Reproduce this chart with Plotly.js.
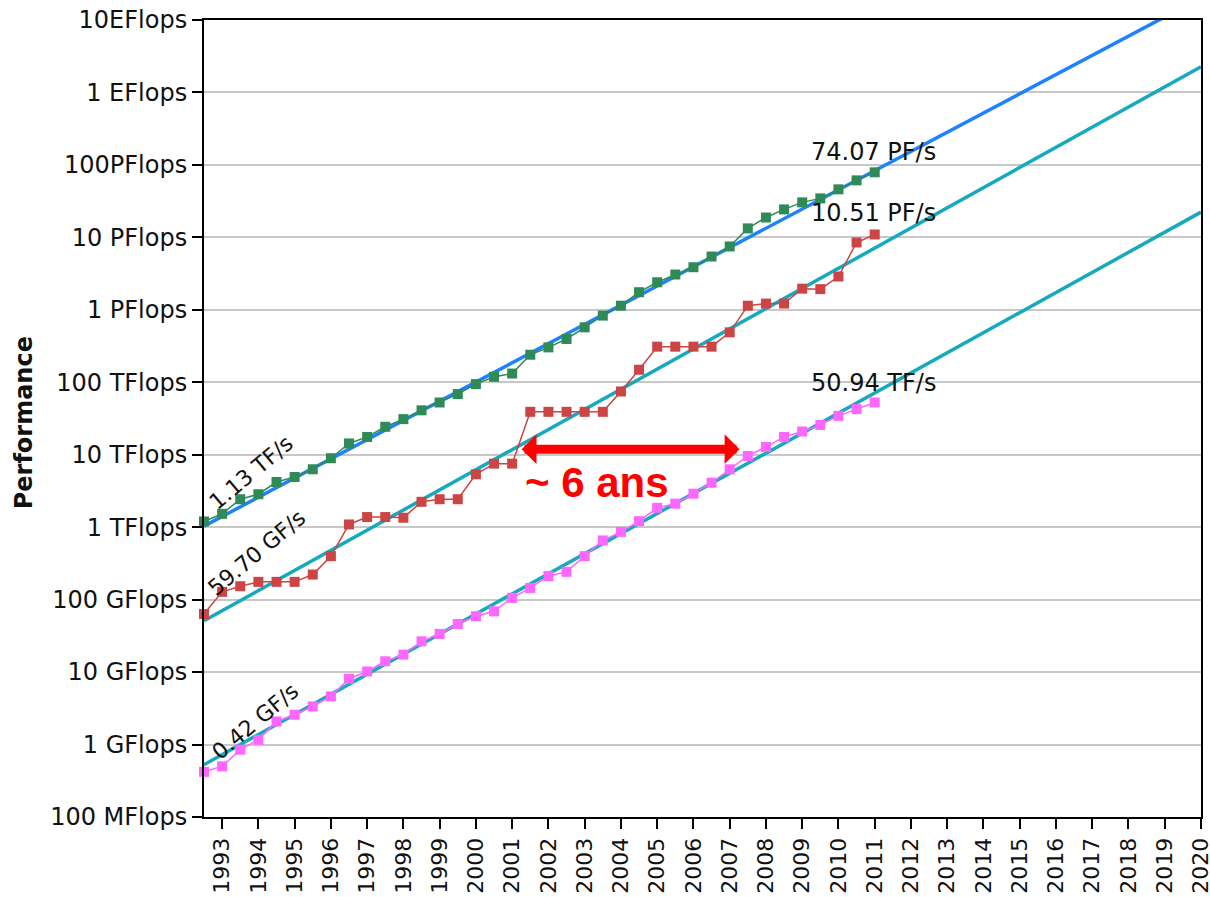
<!DOCTYPE html>
<html>
<head>
<meta charset="utf-8">
<script src="https://cdn.plot.ly/plotly-3.0.1.min.js"></script>
<style>
  html, body { margin: 0; padding: 0; background: #ffffff; }
  #chart { width: 1210px; height: 897px; }
</style>
</head>
<body>
<div id="chart"></div>
<script>
// TOP500 list dates (June / November of each year, as fractional years)
const listYears = [
  1992.5, 1993.0, 1993.5, 1994.0, 1994.5, 1995.0, 1995.5, 1996.0, 1996.5, 1997.0,
  1997.5, 1998.0, 1998.5, 1999.0, 1999.5, 2000.0, 2000.5, 2001.0, 2001.5, 2002.0,
  2002.5, 2003.0, 2003.5, 2004.0, 2004.5, 2005.0, 2005.5, 2006.0, 2006.5, 2007.0,
  2007.5, 2008.0, 2008.5, 2009.0, 2009.5, 2010.0, 2010.5, 2011.0
];

// Sum of the 500 systems (Flops)
const sumPerf = [
  1.2e12, 1.53e12, 2.43e12, 2.85e12, 4.2e12, 4.93e12, 6.3e12, 8.95e12, 1.43e13, 1.76e13,
  2.43e13, 3.1e13, 4.1e13, 5.26e13, 6.87e13, 9.44e13, 1.19e14, 1.32e14, 2.4e14, 3.03e14,
  3.96e14, 5.73e14, 8.32e14, 1.14e15, 1.75e15, 2.4e15, 3.07e15, 3.87e15, 5.44e15, 7.49e15,
  1.33e16, 1.88e16, 2.43e16, 3.04e16, 3.45e16, 4.6e16, 6.12e16, 7.9e16
];

// #1 system (Flops)
const firstPerf = [
  6.34e10, 1.28e11, 1.53e11, 1.76e11, 1.76e11, 1.76e11, 2.22e11, 3.98e11, 1.09e12, 1.38e12,
  1.38e12, 1.35e12, 2.24e12, 2.43e12, 2.43e12, 5.37e12, 7.53e12, 7.53e12, 3.91e13, 3.91e13,
  3.91e13, 3.91e13, 3.91e13, 7.46e13, 1.49e14, 3.1e14, 3.1e14, 3.1e14, 3.1e14, 4.89e14,
  1.14e15, 1.22e15, 1.22e15, 1.96e15, 1.93e15, 2.88e15, 8.5e15, 1.096e16
];

// #500 system (Flops)
const lastPerf = [
  4.2e8, 5.0e8, 8.5e8, 1.16e9, 2.08e9, 2.58e9, 3.36e9, 4.62e9, 8.1e9, 1.02e10,
  1.41e10, 1.74e10, 2.66e10, 3.36e10, 4.61e10, 5.9e10, 6.9e10, 1.06e11, 1.45e11, 2.11e11,
  2.42e11, 3.98e11, 6.56e11, 8.63e11, 1.21e12, 1.85e12, 2.11e12, 2.9e12, 4.11e12, 6.3e12,
  9.6e12, 1.28e13, 1.76e13, 2.09e13, 2.58e13, 3.44e13, 4.26e13, 5.26e13
];

// Trend lines (end points)
const trendYears = [1992.5, 2020];
const trendSum = [1.035e12, 2.03e19];
const trendFirst = [5.1e10, 2.26e18];
const trendLast = [5.28e8, 2.23e16];

// Axis ticks
const yTickVals = [1e8, 1e9, 1e10, 1e11, 1e12, 1e13, 1e14, 1e15, 1e16, 1e17, 1e18, 1e19];
const yTickText = ["100 MFlops", "1 GFlops", "10 GFlops", "100 GFlops", "1 TFlops", "10 TFlops",
  "100 TFlops", "1 PFlops", "10 PFlops", "100PFlops", "1 EFlops", "10EFlops"];
const xTickVals = [1993, 1994, 1995, 1996, 1997, 1998, 1999, 2000, 2001, 2002, 2003, 2004, 2005, 2006,
  2007, 2008, 2009, 2010, 2011, 2012, 2013, 2014, 2015, 2016, 2017, 2018, 2019, 2020];
const xTickText = xTickVals.map(String);

// Text labels
const startLabels = ["1.13 TF/s", "59.70 GF/s", "0.42 GF/s"];
const endLabels = ["74.07 PF/s", "10.51 PF/s", "50.94 TF/s"];
const gapLabel = "~ 6 ans";
const yTitle = "Performance";

const FONT = "DejaVu Sans, Arial, sans-serif";

const traces = [
  { x: trendYears, y: trendSum, mode: "lines", line: { color: "#1e82ff", width: 3.5 }, hoverinfo: "skip" },
  { x: trendYears, y: trendFirst, mode: "lines", line: { color: "#17a9bd", width: 3.5 }, hoverinfo: "skip" },
  { x: trendYears, y: trendLast, mode: "lines", line: { color: "#17a9bd", width: 3.5 }, hoverinfo: "skip" },
  { x: listYears, y: sumPerf, mode: "lines+markers", cliponaxis: false,
    line: { color: "#2e8b57", width: 1.5 }, marker: { symbol: "square", size: 10, color: "#2e8b57" } },
  { x: listYears, y: firstPerf, mode: "lines+markers", cliponaxis: false,
    line: { color: "#cc4444", width: 1.5 }, marker: { symbol: "square", size: 10, color: "#cc4444" } },
  { x: listYears, y: lastPerf, mode: "lines+markers", cliponaxis: false,
    line: { color: "#ff66ff", width: 1.5 }, marker: { symbol: "square", size: 10, color: "#ff66ff" } }
];

const n = listYears.length - 1;
const annotations = [
  // rotated start labels
  { x: 1993.81, y: 12.748, text: startLabels[0], textangle: -40 },
  { x: 1993.96, y: 11.656, text: startLabels[1], textangle: -40 },
  { x: 1993.91, y: 9.318, text: startLabels[2], textangle: -40 },
  // end labels
  { x: listYears[n] - 0.045, y: 17.174, text: endLabels[0] },
  { x: listYears[n] - 0.02, y: 16.331, text: endLabels[1] },
  { x: listYears[n] - 0.045, y: 13.993, text: endLabels[2] }
].map(a => Object.assign({
  xref: "x", yref: "y", showarrow: false, xanchor: "center", yanchor: "middle",
  font: { family: FONT, size: a.textangle ? 22 : 24, color: "#111111" }
}, a));

// double arrow "~ 6 ans"
annotations.push({
  x: 2007.27, y: 13.076, ax: 2001.22, ay: 13.076, xref: "x", yref: "y", axref: "x", ayref: "y",
  text: " ", font: { size: 1 }, showarrow: true, arrowside: "end+start",
  arrowhead: 1, startarrowhead: 1, arrowsize: 0.55, startarrowsize: 0.55,
  arrowwidth: 9, arrowcolor: "#ff0000", standoff: 0, startstandoff: 0
});
annotations.push({
  x: 2003.33, y: 12.61, xref: "x", yref: "y", showarrow: false, text: gapLabel,
  xanchor: "center", yanchor: "middle",
  font: { family: "Liberation Sans, Arial, sans-serif", size: 42, color: "#ff0000", weight: "bold" }
});
// y axis title
annotations.push({
  xref: "paper", yref: "paper", x: -0.1805, y: 0.494, showarrow: false, text: "<b>" + yTitle + "</b>",
  textangle: -90, xanchor: "center", yanchor: "middle",
  font: { family: FONT, size: 24, color: "#111111" }
});

const layout = {
  width: 1210, height: 897,
  margin: { l: 204, r: 9, t: 20, b: 80, pad: 0 },
  paper_bgcolor: "#ffffff", plot_bgcolor: "#ffffff",
  showlegend: false,
  font: { family: FONT, size: 24, color: "#111111" },
  xaxis: {
    type: "linear", range: [1992.5, 2020], autorange: false,
    tickmode: "array", tickvals: xTickVals, ticktext: xTickText, tickangle: -90,
    ticklabeloverflow: "allow",
    ticks: "outside", ticklen: 10, tickwidth: 2, tickcolor: "#000000",
    showgrid: false, zeroline: false,
    showline: true, linecolor: "#000000", linewidth: 2, mirror: true,
    tickfont: { family: FONT, size: 22, color: "#111111" }
  },
  yaxis: {
    type: "log", range: [8, 19], autorange: false,
    tickmode: "array", tickvals: yTickVals, ticktext: yTickText,
    ticklabeloverflow: "allow",
    ticks: "outside", ticklen: 10, tickwidth: 2, tickcolor: "#000000",
    showgrid: true, gridcolor: "#c8c8c8", gridwidth: 2, zeroline: false,
    showline: true, linecolor: "#000000", linewidth: 2, mirror: true,
    tickfont: { family: FONT, size: 24, color: "#111111" }
  },
  annotations: annotations
};

Plotly.newPlot("chart", traces, layout, { staticPlot: true, displayModeBar: false });
</script>
</body>
</html>
